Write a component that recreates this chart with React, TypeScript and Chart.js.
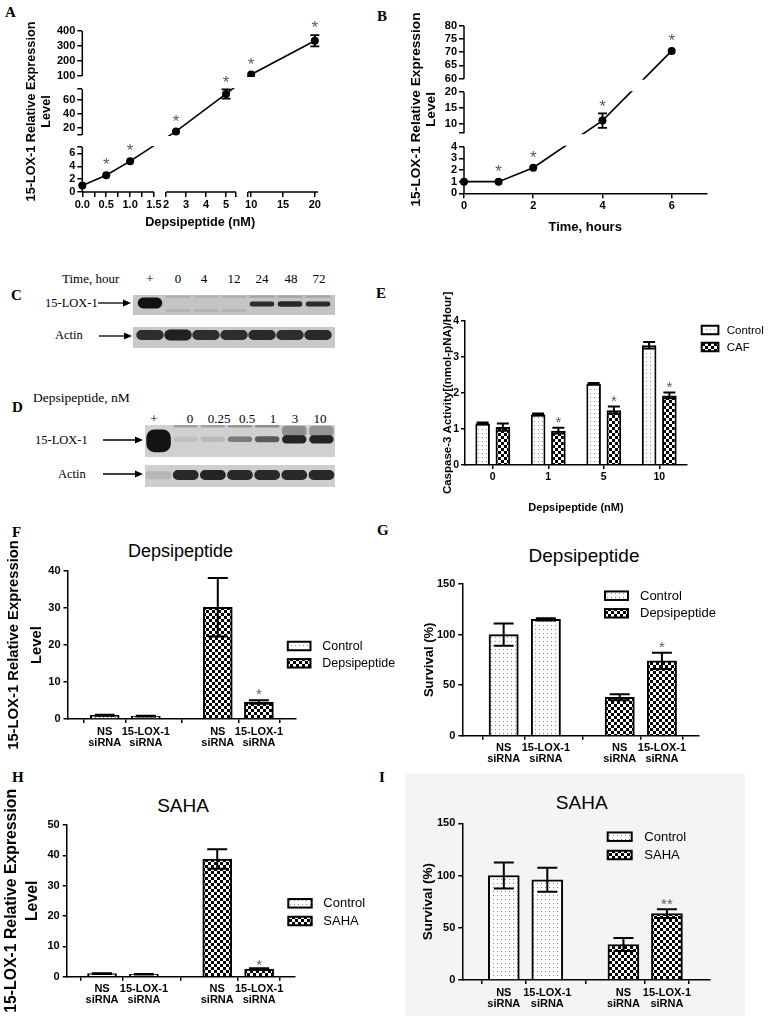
import React, { useEffect, useRef } from "react";
import { Chart, registerables } from "chart.js";

Chart.register(...registerables);

const SANS = "'Liberation Sans', Arial, Helvetica, sans-serif";
const SERIF = "'Liberation Serif', 'Times New Roman', Times, serif";
const STAR_GRAY = "#5a5a5a";

/* ================= DATA ================= */
// Panel A : 15-LOX-1 expression vs depsipeptide dose (broken axes)
const aDoseNM = [0, 0.5, 1, 2.5, 5, 10, 20];
const aExpression = [1, 2.6, 4.8, 15, 68, 110, 335];
const aExpressionErr = [0, 0, 0, 0, 6.5, 0, 38];
const aStars = ["", "*", "*", "*", "*", "*", "*"];
const aXBreaks = [[0, 1.5], [2, 5.5], [9.5, 20.5]];
const aYBreaks = [[0, 7], [10, 75], [100, 400]];
const aXTickValues = [0, 0.5, 1, 1.5, 2, 3, 4, 5, 10, 15, 20];
const aXTickLabels = ["0.0", "0.5", "1.0", "1.5", "2", "3", "4", "5", "10", "15", "20"];
const aXMinorTicks = [0.25, 0.75, 1.25, 5.5, 9.5];
const aYTickValues = [0, 2, 4, 6, 20, 40, 60, 100, 200, 300, 400];
const aYMinorTicks = [7, 10, 75];

// Panel B : 15-LOX-1 expression vs time (broken y axis)
const bHours = [0, 1, 2, 4, 6];
const bExpression = [1, 1, 2.2, 11, 70.5];
const bExpressionErr = [0, 0, 0, 2.3, 0];
const bStars = ["", "*", "*", "*", "*"];
const bYBreaks = [[0, 4], [7, 20], [60, 80]];
const bYTickValues = [0, 1, 2, 3, 4, 10, 15, 20, 60, 65, 70, 75, 80];
const bYMinorTicks = [7];
const bXTickValues = [0, 2, 4, 6];

// Panel C : western blot, time course
const blotCLanes = ["+", "0", "4", "12", "24", "48", "72"];
const blotCLoxBand = [[3.3, 8.7], [8.6, 9.8], [8.6, 9.8], [8.6, 9.8], [4.2, 6.7], [4.1, 6.9], [4.2, 6.7]];
const blotCLoxIntensity = [1, 0.12, 0.1, 0.12, 0.85, 0.88, 0.85];
const blotCLoxFaint = [null, [1.5, 3], [1.5, 3], [1.5, 3], [8.6, 9.8], [8.6, 9.8], [8.6, 9.8]];
const blotCLoxFaintIntensity = [0, 0.08, 0.08, 0.08, 0.18, 0.18, 0.18];
const blotCActinBand = [[3.8, 8.6], [3.6, 8.8], [3.8, 8.6], [3.8, 8.6], [3.8, 8.6], [3.8, 8.6], [3.8, 8.6]];
const blotCActinIntensity = [0.85, 0.92, 0.85, 0.85, 0.88, 0.85, 0.88];

// Panel D : western blot, dose course
const blotDLanes = ["+", "0", "0.25", "0.5", "1", "3", "10"];
const blotDLoxBand = [[1.5, 8.6], [4.8, 6.3], [4.8, 6.3], [4.7, 6.4], [4.6, 6.5], [4.2, 6.8], [4.2, 6.8]];
const blotDLoxIntensity = [1, 0.08, 0.12, 0.45, 0.62, 0.9, 0.9];
const blotDLoxSmear = [null, [9.2, 10], [9.2, 10], [9.2, 10], [9.2, 10], [6.5, 9.8], [6.5, 9.8]];
const blotDLoxSmearIntensity = [0, 0.25, 0.25, 0.3, 0.35, 0.35, 0.3];
const blotDActinBand = [[3.5, 7.2], [3.2, 7.7], [3.2, 7.7], [3.2, 7.7], [3.2, 7.7], [3.2, 7.7], [3.2, 7.7]];
const blotDActinIntensity = [0.12, 0.88, 0.9, 0.88, 0.88, 0.88, 0.88];

// Panel E : caspase-3 activity
const eDoseLabels = ["0", "1", "5", "10"];
const eControl = [1.15, 1.4, 2.25, 3.32];
const eControlErr = [0.03, 0.03, 0.02, 0.09];
const eCaf = [1.05, 0.95, 1.52, 1.93];
const eCafErr = [0.1, 0.08, 0.1, 0.08];
const eCafStars = ["", "*", "*", "*"];

// Panels F-I : siRNA experiments
const siRnaLabels = [["NS", "siRNA"], ["15-LOX-1", "siRNA"], ["NS", "siRNA"], ["15-LOX-1", "siRNA"]];
const fControl = [1.0, 0.8];
const fControlErr = [0.12, 0.1];
const fDepsi = [30.2, 4.6];
const fDepsiErr = [7.9, 0.5];
const fStars = ["", "*"];
const gControl = [100, 115];
const gControlErr = [11, 1.2];
const gDepsi = [38, 74];
const gDepsiErr = [3, 8];
const gStars = ["", "*"];
const hControl = [1.0, 0.8];
const hControlErr = [0.1, 0.1];
const hSaha = [38.8, 2.5];
const hSahaErr = [3.2, 0.3];
const hStars = ["", "*"];
const iControl = [100, 96];
const iControlErr = [12.5, 11.5];
const iSaha = [34, 63.5];
const iSahaErr = [6.2, 4.2];
const iStars = ["", "**"];

/* ================= LAYOUT ================= */
type Box = { x: number; y: number; w: number; h: number };
type Area = { left: number; top: number; right: number; bottom: number };

const barSlots = [1, 2, 3.75, 4.75];
const aXSegLen = [71.7, 70, 70];
const aXGaps = [12, 12];
const aYSegLen = [45, 46, 45];
const aYGaps = [12, 13];
const bYSegLen = [46.6, 41, 53];
const bYGaps = [13.5, 13.5];

const boxA: Box = { x: 24, y: 8, w: 356, h: 222 };
const areaA: Area = { left: 82.3, top: 31, right: 318, bottom: 192 };
const boxB: Box = { x: 409, y: 8, w: 361, h: 227 };
const areaB: Area = { left: 464, top: 25.7, right: 706.3, bottom: 193.3 };
const boxE: Box = { x: 441, y: 280, w: 329, h: 235 };
const areaE: Area = { left: 465, top: 320.7, right: 687, bottom: 465 };
const boxF: Box = { x: 1.5, y: 520, w: 413, h: 240 };
const areaF: Area = { left: 67, top: 571, right: 295, bottom: 719 };
const boxG: Box = { x: 422, y: 560, w: 348, h: 215 };
const areaG: Area = { left: 462.3, top: 584, right: 698.3, bottom: 735.7 };
const boxH: Box = { x: 1, y: 775, w: 414, h: 241 };
const areaH: Area = { left: 66.7, top: 825, right: 295, bottom: 976.7 };
const boxI: Box = { x: 420, y: 790, w: 350, h: 226 };
const areaI: Area = { left: 462.3, top: 823.3, right: 710, bottom: 980 };

const legendE = { boxX: 701.7, boxW: 16.7, boxH: 8.5, textX: 726.7, rows: [330, 347], size: 11.5 };
const legendF = { boxX: 287.3, boxW: 22.7, boxH: 8.5, textX: 321.7, rows: [646, 663.3], size: 12.5 };
const legendG = { boxX: 605, boxW: 23, boxH: 8.5, textX: 640, rows: [595.7, 613.3], size: 13 };
const legendH = { boxX: 288.3, boxW: 23.4, boxH: 8.5, textX: 323.3, rows: [903.3, 921], size: 13 };
const legendI = { boxX: 607.7, boxW: 24, boxH: 8.5, textX: 644.3, rows: [836.7, 855], size: 13 };

const blotBoxes = {
  cLox: { x: 133, y: 295, w: 202, h: 20 },
  cActin: { x: 133, y: 327, w: 202, h: 21 },
  dLox: { x: 145, y: 425, w: 190, h: 32 },
  dActin: { x: 145, y: 465, w: 190, h: 22 },
};
const blotCLabelX = [150, 178, 204, 234, 262, 291, 319];
const blotDLabelX = [154, 190, 219, 247, 273, 295, 320];

/* ================= HELPERS ================= */
function frame(box: Box, area: Area) {
  return {
    padding: { left: 0, top: area.top - box.y, right: box.x + box.w - area.right, bottom: 0 },
    yWidth: area.left - box.x,
    xHeight: box.y + box.h - area.bottom,
  };
}
function zeroPad(s: any) {
  s.paddingLeft = 0; s.paddingRight = 0; s.paddingTop = 0; s.paddingBottom = 0;
}
const fixY = (w: number) => (s: any) => { s.width = w; zeroPad(s); };
const fixX = (h: number) => (s: any) => { s.height = h; zeroPad(s); };

const tickFont = (size: number, lh = 1.2) => ({ color: "#000", font: { family: SANS, size, weight: "bold", lineHeight: lh } });
const tickGrid = (len: number) => ({ display: true, drawOnChartArea: false, drawTicks: true, tickLength: len, color: "#000", lineWidth: 1.5 });
const axisBorder = { display: true, color: "#000", width: 1.5 };
const noBorder = { display: false };
const axisTitle = (text: any, size: number, lhPx: number) => ({
  display: true, text, color: "#000", padding: 0,
  font: { family: SANS, size, weight: "bold", lineHeight: lhPx / size },
});

function baseOptions(padding: any) {
  return {
    responsive: false,
    animation: false,
    devicePixelRatio: 1,
    events: [],
    layout: { padding },
    plugins: { legend: { display: false }, tooltip: { enabled: false }, title: { display: false } },
  };
}

function makeBroken(breaks: number[][], lens: number[], gaps: number[]) {
  const starts: number[] = [];
  let o = 0;
  breaks.forEach((_, i) => { starts.push(o); o += lens[i] + (gaps[i] || 0); });
  const total = starts[starts.length - 1] + lens[lens.length - 1];
  const map = (v: number) => {
    for (let i = 0; i < breaks.length; i++) {
      const [a, b] = breaks[i];
      if (v <= b + 1e-9 || i === breaks.length - 1) return starts[i] + ((v - a) / (b - a)) * lens[i];
    }
    return 0;
  };
  const segs = breaks.map((_, i) => [starts[i], starts[i] + lens[i]]);
  return { map, total, segs };
}

function dotPattern() {
  const c = document.createElement("canvas");
  c.width = 4; c.height = 4;
  const g = c.getContext("2d")!;
  g.fillStyle = "#ffffff"; g.fillRect(0, 0, 4, 4);
  g.fillStyle = "#8c8c8c"; g.fillRect(1, 1, 1, 1);
  return g.createPattern(c, "repeat")!;
}
function checkerPattern() {
  const c = document.createElement("canvas");
  c.width = 6; c.height = 6;
  const g = c.getContext("2d")!;
  g.fillStyle = "#ffffff"; g.fillRect(0, 0, 6, 6);
  g.fillStyle = "#000000"; g.fillRect(0, 0, 3, 3); g.fillRect(3, 3, 3, 3);
  return g.createPattern(c, "repeat")!;
}

function drawStar(ctx: CanvasRenderingContext2D, text: string, x: number, centerY: number, size: number) {
  ctx.save();
  ctx.fillStyle = STAR_GRAY;
  ctx.font = `${size}px ${SANS}`;
  ctx.textAlign = "center";
  ctx.textBaseline = "alphabetic";
  ctx.fillText(text, x, centerY + 0.57 * size);
  ctx.restore();
}

function drawErrorBars(chart: any, capW: number, lw: number) {
  const ctx = chart.ctx as CanvasRenderingContext2D;
  const ys = chart.scales.y;
  chart.data.datasets.forEach((ds: any, di: number) => {
    if (!ds.errLo) return;
    const meta = chart.getDatasetMeta(di);
    meta.data.forEach((el: any, i: number) => {
      const lo = ds.errLo[i], hi = ds.errHi[i];
      if (lo == null || hi == null || !(hi > lo)) return;
      const x = el.x;
      const y1 = ys.getPixelForValue(lo), y2 = ys.getPixelForValue(hi);
      ctx.save();
      ctx.strokeStyle = "#000"; ctx.lineWidth = lw;
      ctx.beginPath();
      ctx.moveTo(x, y1); ctx.lineTo(x, y2);
      ctx.moveTo(x - capW / 2, y1); ctx.lineTo(x + capW / 2, y1);
      ctx.moveTo(x - capW / 2, y2); ctx.lineTo(x + capW / 2, y2);
      ctx.stroke();
      ctx.restore();
    });
  });
}

function drawStarLabels(chart: any, size: number, gapErr: number, gapNoErr: number) {
  const ctx = chart.ctx as CanvasRenderingContext2D;
  const ys = chart.scales.y;
  chart.data.datasets.forEach((ds: any, di: number) => {
    if (!ds.stars) return;
    const meta = chart.getDatasetMeta(di);
    meta.data.forEach((el: any, i: number) => {
      const s = ds.stars[i];
      if (!s) return;
      const hasErr = ds.errHi && ds.errHi[i] != null && ds.errHi[i] > ds.errLo[i];
      const top = hasErr ? Math.min(el.y, ys.getPixelForValue(ds.errHi[i])) : el.y;
      drawStar(ctx, s, el.x, top - (hasErr ? gapErr : gapNoErr), size);
    });
  });
}

function drawLegend(chart: any, lg: any, box: Box) {
  const ctx = chart.ctx as CanvasRenderingContext2D;
  chart.data.datasets.forEach((ds: any, i: number) => {
    const cy = lg.rows[i] - box.y;
    const bx = lg.boxX - box.x;
    ctx.save();
    ctx.fillStyle = ds.backgroundColor;
    ctx.fillRect(bx, cy - lg.boxH / 2, lg.boxW, lg.boxH);
    ctx.lineWidth = 2; ctx.strokeStyle = "#000";
    ctx.strokeRect(bx, cy - lg.boxH / 2, lg.boxW, lg.boxH);
    ctx.fillStyle = "#000";
    ctx.font = `${lg.size}px ${SANS}`;
    ctx.textAlign = "left"; ctx.textBaseline = "middle";
    ctx.fillText(ds.label, lg.textX - box.x, cy + 0.5);
    ctx.restore();
  });
}

function maskGaps(chart: any, xSegs: number[][] | null, ySegs: number[][] | null) {
  const { ctx, chartArea: ca, scales } = chart;
  ctx.save();
  ctx.fillStyle = "#ffffff";
  if (xSegs) {
    for (let i = 0; i < xSegs.length - 1; i++) {
      const p1 = scales.x.getPixelForValue(xSegs[i][1]);
      const p2 = scales.x.getPixelForValue(xSegs[i + 1][0]);
      ctx.fillRect(p1 + 1, ca.top - 14, p2 - p1 - 2, ca.bottom - ca.top + 13);
    }
  }
  if (ySegs) {
    for (let i = 0; i < ySegs.length - 1; i++) {
      const p1 = scales.y.getPixelForValue(ySegs[i][1]);
      const p2 = scales.y.getPixelForValue(ySegs[i + 1][0]);
      ctx.fillRect(ca.left + 1, p2 + 1, ca.right - ca.left + 14, p1 - p2 - 2);
    }
  }
  ctx.restore();
}

function drawAxisSegs(chart: any, xSegs: number[][] | null, ySegs: number[][] | null) {
  const { ctx, chartArea: ca, scales } = chart;
  ctx.save();
  ctx.strokeStyle = "#000"; ctx.lineWidth = 1.5;
  ctx.beginPath();
  if (xSegs) xSegs.forEach(([a, b]) => {
    ctx.moveTo(scales.x.getPixelForValue(a), ca.bottom);
    ctx.lineTo(scales.x.getPixelForValue(b), ca.bottom);
  });
  if (ySegs) ySegs.forEach(([a, b]) => {
    ctx.moveTo(ca.left, scales.y.getPixelForValue(a));
    ctx.lineTo(ca.left, scales.y.getPixelForValue(b));
  });
  ctx.stroke();
  ctx.restore();
}

/* ================= CONFIG BUILDERS ================= */
function brokenLineConfig(o: any) {
  const fr = frame(o.box, o.area);
  const pts = o.xs.map((x: number, i: number) => ({ x: o.xMap(x), y: o.yMap(o.ys[i]) }));
  const errLo = o.ys.map((v: number, i: number) => (o.errs[i] > 0 ? o.yMap(v - o.errs[i]) : null));
  const errHi = o.ys.map((v: number, i: number) => (o.errs[i] > 0 ? o.yMap(v + o.errs[i]) : null));
  return {
    type: "line",
    data: {
      datasets: [{
        data: pts, borderColor: "#000", borderWidth: 1.6, pointRadius: 4,
        pointBackgroundColor: "#000", pointBorderColor: "#000", pointBorderWidth: 0,
        tension: 0, clip: false, errLo, errHi, stars: o.stars,
      }],
    },
    options: {
      ...baseOptions(fr.padding),
      scales: {
        x: {
          type: "linear", min: 0, max: o.xMax,
          border: o.xSegs ? noBorder : axisBorder,
          grid: tickGrid(5),
          ticks: { ...tickFont(11), padding: 1, autoSkip: false, maxRotation: 0, minRotation: 0, callback: (_v: any, i: number) => (o.xTicks[i] ? o.xTicks[i].l : "") },
          afterBuildTicks: (s: any) => { s.ticks = o.xTicks.map((t: any) => ({ value: t.v })); },
          afterFit: fixX(fr.xHeight),
          title: axisTitle(o.xTitle, o.xTitleSize, o.xTitleSize * 1.2),
        },
        y: {
          type: "linear", min: 0, max: o.yMax,
          border: noBorder,
          grid: tickGrid(5),
          ticks: { ...tickFont(11), padding: 2, autoSkip: false, callback: (_v: any, i: number) => (o.yTicks[i] ? o.yTicks[i].l : "") },
          afterBuildTicks: (s: any) => { s.ticks = o.yTicks.map((t: any) => ({ value: t.v })); },
          afterFit: fixY(fr.yWidth),
          title: axisTitle(o.yTitle, o.yTitleSize, o.yTitleLH),
        },
      },
    },
    plugins: [{
      id: "broken",
      afterDatasetsDraw(c: any) {
        maskGaps(c, o.xSegs, o.ySegs);
        drawAxisSegs(c, o.xSegs, o.ySegs);
        drawErrorBars(c, 9, 1.8);
        drawStarLabels(c, 17, 11.5, 14.5);
      },
    }],
  };
}

function buildTicks(values: number[], labels: string[], minors: number[], map: (v: number) => number) {
  return [
    ...values.map((v, i) => ({ v: map(v), l: labels[i] })),
    ...minors.map((v) => ({ v: map(v), l: "" })),
  ].sort((p, q) => p.v - q.v);
}

function configA() {
  const ax = makeBroken(aXBreaks, aXSegLen, aXGaps);
  const ay = makeBroken(aYBreaks, aYSegLen, aYGaps);
  return brokenLineConfig({
    box: boxA, area: areaA,
    xs: aDoseNM, ys: aExpression, errs: aExpressionErr, stars: aStars,
    xMap: ax.map, xMax: ax.total, xSegs: ax.segs,
    xTicks: buildTicks(aXTickValues, aXTickLabels, aXMinorTicks, ax.map),
    yMap: ay.map, yMax: ay.total, ySegs: ay.segs,
    yTicks: buildTicks(aYTickValues, aYTickValues.map(String), aYMinorTicks, ay.map),
    xTitle: "Depsipeptide (nM)", xTitleSize: 12.7,
    yTitle: ["15-LOX-1 Relative Expression", "Level"], yTitleSize: 12.7, yTitleLH: 15,
  });
}

function configB() {
  const ay = makeBroken(bYBreaks, bYSegLen, bYGaps);
  const id = (v: number) => v;
  return brokenLineConfig({
    box: boxB, area: areaB,
    xs: bHours, ys: bExpression, errs: bExpressionErr, stars: bStars,
    xMap: id, xMax: 7, xSegs: null,
    xTicks: buildTicks(bXTickValues, bXTickValues.map(String), [], id),
    yMap: ay.map, yMax: ay.total, ySegs: ay.segs,
    yTicks: buildTicks(bYTickValues, bYTickValues.map(String), bYMinorTicks, ay.map),
    xTitle: "Time, hours", xTitleSize: 13,
    yTitle: ["15-LOX-1 Relative Expression", "Level"], yTitleSize: 13.7, yTitleLH: 15,
  });
}

function configE() {
  const fr = frame(boxE, areaE);
  const dot = dotPattern(), chk = checkerPattern();
  const common = { borderColor: "#000", borderWidth: 2, categoryPercentage: 0.73, barPercentage: 0.72 };
  return {
    type: "bar",
    data: {
      labels: eDoseLabels,
      datasets: [
        { label: "Control", data: eControl, backgroundColor: dot, ...common,
          errLo: eControl.map((v, i) => v - eControlErr[i]), errHi: eControl.map((v, i) => v + eControlErr[i]) },
        { label: "CAF", data: eCaf, backgroundColor: chk, ...common, stars: eCafStars,
          errLo: eCaf.map((v, i) => v - eCafErr[i]), errHi: eCaf.map((v, i) => v + eCafErr[i]) },
      ],
    },
    options: {
      ...baseOptions(fr.padding),
      scales: {
        x: {
          type: "category", offset: true, border: axisBorder,
          grid: { ...tickGrid(4), offset: false },
          ticks: { ...tickFont(10.5), padding: 2, autoSkip: false, maxRotation: 0, minRotation: 0 },
          afterFit: fixX(fr.xHeight),
          title: axisTitle("Depsipeptide (nM)", 11, 13.2),
        },
        y: {
          type: "linear", min: 0, max: 4, border: axisBorder, grid: tickGrid(4),
          ticks: { ...tickFont(10.5), padding: 2, stepSize: 1 },
          afterFit: fixY(fr.yWidth),
          title: axisTitle("Caspase-3 Activity[(nmol-pNA)/Hour]", 11.5, 13.8),
        },
      },
    },
    plugins: [{
      id: "decoE",
      afterDatasetsDraw(c: any) {
        drawErrorBars(c, 12, 2);
        drawStarLabels(c, 15, 9.5, 9.5);
        drawLegend(c, legendE, boxE);
      },
    }],
  };
}

function siRnaConfig(o: any) {
  const fr = frame(o.box, o.area);
  const dot = dotPattern(), chk = checkerPattern();
  const mk = (vals: number[], errs: number[], slots: number[]) => ({
    data: vals.map((v, i) => ({ x: slots[i], y: v })),
    errLo: vals.map((v, i) => v - errs[i]),
    errHi: vals.map((v, i) => v + errs[i]),
  });
  const common = { borderColor: "#000", borderWidth: 2, grouped: false, maxBarThickness: o.barW, barPercentage: 1, categoryPercentage: 1 };
  return {
    type: "bar",
    data: {
      datasets: [
        { label: "Control", ...mk(o.ctrl, o.ctrlErr, barSlots.slice(0, 2)), backgroundColor: dot, ...common },
        { label: o.treatLabel, ...mk(o.treat, o.treatErr, barSlots.slice(2)), stars: o.stars, backgroundColor: chk, ...common },
      ],
    },
    options: {
      ...baseOptions(fr.padding),
      scales: {
        x: {
          type: "linear", min: o.xMin, max: o.xMax, offset: false, border: axisBorder, grid: tickGrid(4),
          ticks: { ...tickFont(11, 1), padding: 3, autoSkip: false, maxRotation: 0, minRotation: 0, callback: (_v: any, i: number) => siRnaLabels[i] },
          afterBuildTicks: (s: any) => { s.ticks = barSlots.map((v) => ({ value: v })); },
          afterFit: fixX(fr.xHeight),
        },
        y: {
          type: "linear", min: 0, max: o.yMax, border: axisBorder, grid: tickGrid(4),
          ticks: { ...tickFont(o.yTickSize), padding: 3, stepSize: o.yStep },
          afterFit: fixY(fr.yWidth),
          title: axisTitle(o.yTitle, o.yTitleSize, o.yTitleLH),
        },
      },
    },
    plugins: [{
      id: "decoSi",
      afterDatasetsDraw(c: any) {
        drawErrorBars(c, o.capW, 2);
        drawStarLabels(c, 15, o.starGap, o.starGap);
        drawLegend(c, o.legend, o.box);
      },
    }],
  };
}

const EXPR_TITLE = ["15-LOX-1 Relative Expression", "Level"];

const configF = () => siRnaConfig({
  box: boxF, area: areaF, xMin: 0.095, xMax: 5.64, yMax: 40, yStep: 10, yTickSize: 11,
  ctrl: fControl, ctrlErr: fControlErr, treat: fDepsi, treatErr: fDepsiErr, stars: fStars,
  treatLabel: "Depsipeptide", yTitle: EXPR_TITLE, yTitleSize: 14.8, yTitleLH: 23,
  legend: legendF, barW: 29, capW: 20, starGap: 10,
});
const configG = () => siRnaConfig({
  box: boxG, area: areaG, xMin: 0.02, xMax: 5.612, yMax: 150, yStep: 50, yTickSize: 11,
  ctrl: gControl, ctrlErr: gControlErr, treat: gDepsi, treatErr: gDepsiErr, stars: gStars,
  treatLabel: "Depsipeptide", yTitle: "Survival (%)", yTitleSize: 13, yTitleLH: 15.6,
  legend: legendG, barW: 29.3, capW: 20, starGap: 9.5,
});
const configH = () => siRnaConfig({
  box: boxH, area: areaH, xMin: 0.157, xMax: 5.606, yMax: 50, yStep: 10, yTickSize: 11,
  ctrl: hControl, ctrlErr: hControlErr, treat: hSaha, treatErr: hSahaErr, stars: hStars,
  treatLabel: "SAHA", yTitle: EXPR_TITLE, yTitleSize: 15.8, yTitleLH: 21.3,
  legend: legendH, barW: 29, capW: 20, starGap: 7,
});
const configI = () => siRnaConfig({
  box: boxI, area: areaI, xMin: 0.046, xMax: 5.74, yMax: 150, yStep: 50, yTickSize: 11,
  ctrl: iControl, ctrlErr: iControlErr, treat: iSaha, treatErr: iSahaErr, stars: iStars,
  treatLabel: "SAHA", yTitle: "Survival (%)", yTitleSize: 13.5, yTitleLH: 16.2,
  legend: legendI, barW: 31, capW: 20, starGap: 8.5,
});

function blotConfig(lanes: string[], layers: any[], bg: string, padX: number) {
  return {
    type: "bar",
    data: {
      labels: lanes,
      datasets: layers.map((L) => ({
        data: L.band,
        backgroundColor: L.intensity.map((a: number) => `rgba(18,18,18,${a})`),
        borderWidth: 0, borderRadius: L.radius, borderSkipped: false,
        barPercentage: L.bp, categoryPercentage: 1, grouped: false,
      })),
    },
    options: {
      ...baseOptions({ left: padX, right: padX, top: 0, bottom: 0 }),
      scales: { x: { display: false }, y: { display: false, min: 0, max: 10 } },
    },
    plugins: [{
      id: "blotBg",
      beforeDraw(c: any) {
        const ctx = c.ctx;
        ctx.save(); ctx.fillStyle = bg; ctx.fillRect(0, 0, c.width, c.height); ctx.restore();
      },
    }],
  };
}

const configCLox = () => blotConfig(blotCLanes, [
  { band: blotCLoxBand, intensity: blotCLoxIntensity, radius: 7, bp: 0.88 },
  { band: blotCLoxFaint, intensity: blotCLoxFaintIntensity, radius: 3, bp: 0.9 },
], "#c4c4c4", 3);
const configCActin = () => blotConfig(blotCLanes, [
  { band: blotCActinBand, intensity: blotCActinIntensity, radius: 6, bp: 0.98 },
], "#c8c8c8", 3);
const configDLox = () => blotConfig(blotDLanes, [
  { band: blotDLoxBand, intensity: blotDLoxIntensity, radius: 8, bp: 0.9 },
  { band: blotDLoxSmear, intensity: blotDLoxSmearIntensity, radius: 4, bp: 0.9 },
], "#d0d0d0", 0);
const configDActin = () => blotConfig(blotDLanes, [
  { band: blotDActinBand, intensity: blotDActinIntensity, radius: 6, bp: 0.95 },
], "#cecece", 0);

/* ================= COMPONENTS ================= */
function ChartCanvas({ box, make, style }: { box: Box; make: () => any; style?: any }) {
  const ref = useRef<HTMLCanvasElement | null>(null);
  useEffect(() => {
    if (!ref.current) return;
    const chart = new Chart(ref.current, make());
    return () => chart.destroy();
  }, []);
  return (
    <canvas
      ref={ref}
      width={box.w}
      height={box.h}
      style={{ position: "absolute", left: box.x, top: box.y, width: box.w, height: box.h, ...(style || {}) }}
    />
  );
}

function Txt({ x, y, size, children, center, family, weight }: any) {
  const style: any = {
    position: "absolute",
    top: y - size * 0.49,
    left: x,
    fontSize: size,
    lineHeight: `${size}px`,
    fontFamily: family || SANS,
    fontWeight: weight || "normal",
    whiteSpace: "nowrap",
    color: "#000",
  };
  if (center) style.transform = "translateX(-50%)";
  return <div style={style}>{children}</div>;
}

const panelLetters = [
  { t: "A", x: 5, y: 12 }, { t: "B", x: 377, y: 16 }, { t: "C", x: 11, y: 295 },
  { t: "D", x: 12, y: 407 }, { t: "E", x: 376, y: 293 }, { t: "F", x: 12, y: 532 },
  { t: "G", x: 377, y: 530 }, { t: "H", x: 12, y: 777 }, { t: "I", x: 379, y: 777 },
];

const arrows = [
  { x1: 98, x2: 131, y: 303 },
  { x1: 99, x2: 132, y: 336 },
  { x1: 103, x2: 143, y: 440 },
  { x1: 103, x2: 143, y: 474 },
];

export default function App() {
  return (
    <div style={{ position: "absolute", left: 0, top: 0, width: 770, height: 1016, background: "#fff", overflow: "hidden" }}>
      <div style={{ position: "absolute", left: 405, top: 773, width: 340, height: 243, background: "#f4f4f4" }} />

      {panelLetters.map((p) => (
        <Txt key={p.t} x={p.x} y={p.y} size={15} family={SERIF} weight="bold">{p.t}</Txt>
      ))}

      {/* blot annotations */}
      <Txt x={62} y={278} size={13} family={SERIF}>Time, hour</Txt>
      {blotCLanes.map((l, i) => (
        <Txt key={"c" + i} x={blotCLabelX[i]} y={278} size={13} family={SERIF} center>{l}</Txt>
      ))}
      <Txt x={45} y={303} size={12.5} family={SERIF}>15-LOX-1</Txt>
      <Txt x={55} y={335} size={12.5} family={SERIF}>Actin</Txt>
      <Txt x={33} y={398} size={13.5} family={SERIF}>Depsipeptide, nM</Txt>
      {blotDLanes.map((l, i) => (
        <Txt key={"d" + i} x={blotDLabelX[i]} y={418} size={13} family={SERIF} center>{l}</Txt>
      ))}
      <Txt x={35} y={440} size={12.5} family={SERIF}>15-LOX-1</Txt>
      <Txt x={58} y={474} size={12.5} family={SERIF}>Actin</Txt>

      <svg width={770} height={1016} style={{ position: "absolute", left: 0, top: 0, pointerEvents: "none" }}>
        {arrows.map((a, i) => (
          <g key={i}>
            <line x1={a.x1} y1={a.y} x2={a.x2 - 6} y2={a.y} stroke="#000" strokeWidth={1.3} />
            <polygon points={`${a.x2},${a.y} ${a.x2 - 8},${a.y - 3.5} ${a.x2 - 8},${a.y + 3.5}`} fill="#000" />
          </g>
        ))}
      </svg>

      {/* panel titles */}
      <Txt x={180.5} y={551} size={18} center>Depsipeptide</Txt>
      <Txt x={584} y={555} size={19} center>Depsipeptide</Txt>
      <Txt x={183} y={805} size={19} center>SAHA</Txt>
      <Txt x={581.7} y={802} size={19} center>SAHA</Txt>

      <ChartCanvas box={blotBoxes.cLox} make={configCLox} style={{ filter: "blur(0.6px)" }} />
      <ChartCanvas box={blotBoxes.cActin} make={configCActin} style={{ filter: "blur(0.6px)" }} />
      <ChartCanvas box={blotBoxes.dLox} make={configDLox} style={{ filter: "blur(0.6px)" }} />
      <ChartCanvas box={blotBoxes.dActin} make={configDActin} style={{ filter: "blur(0.6px)" }} />

      <ChartCanvas box={boxA} make={configA} />
      <ChartCanvas box={boxB} make={configB} />
      <ChartCanvas box={boxE} make={configE} />
      <ChartCanvas box={boxF} make={configF} />
      <ChartCanvas box={boxG} make={configG} />
      <ChartCanvas box={boxH} make={configH} />
      <ChartCanvas box={boxI} make={configI} />
    </div>
  );
}
